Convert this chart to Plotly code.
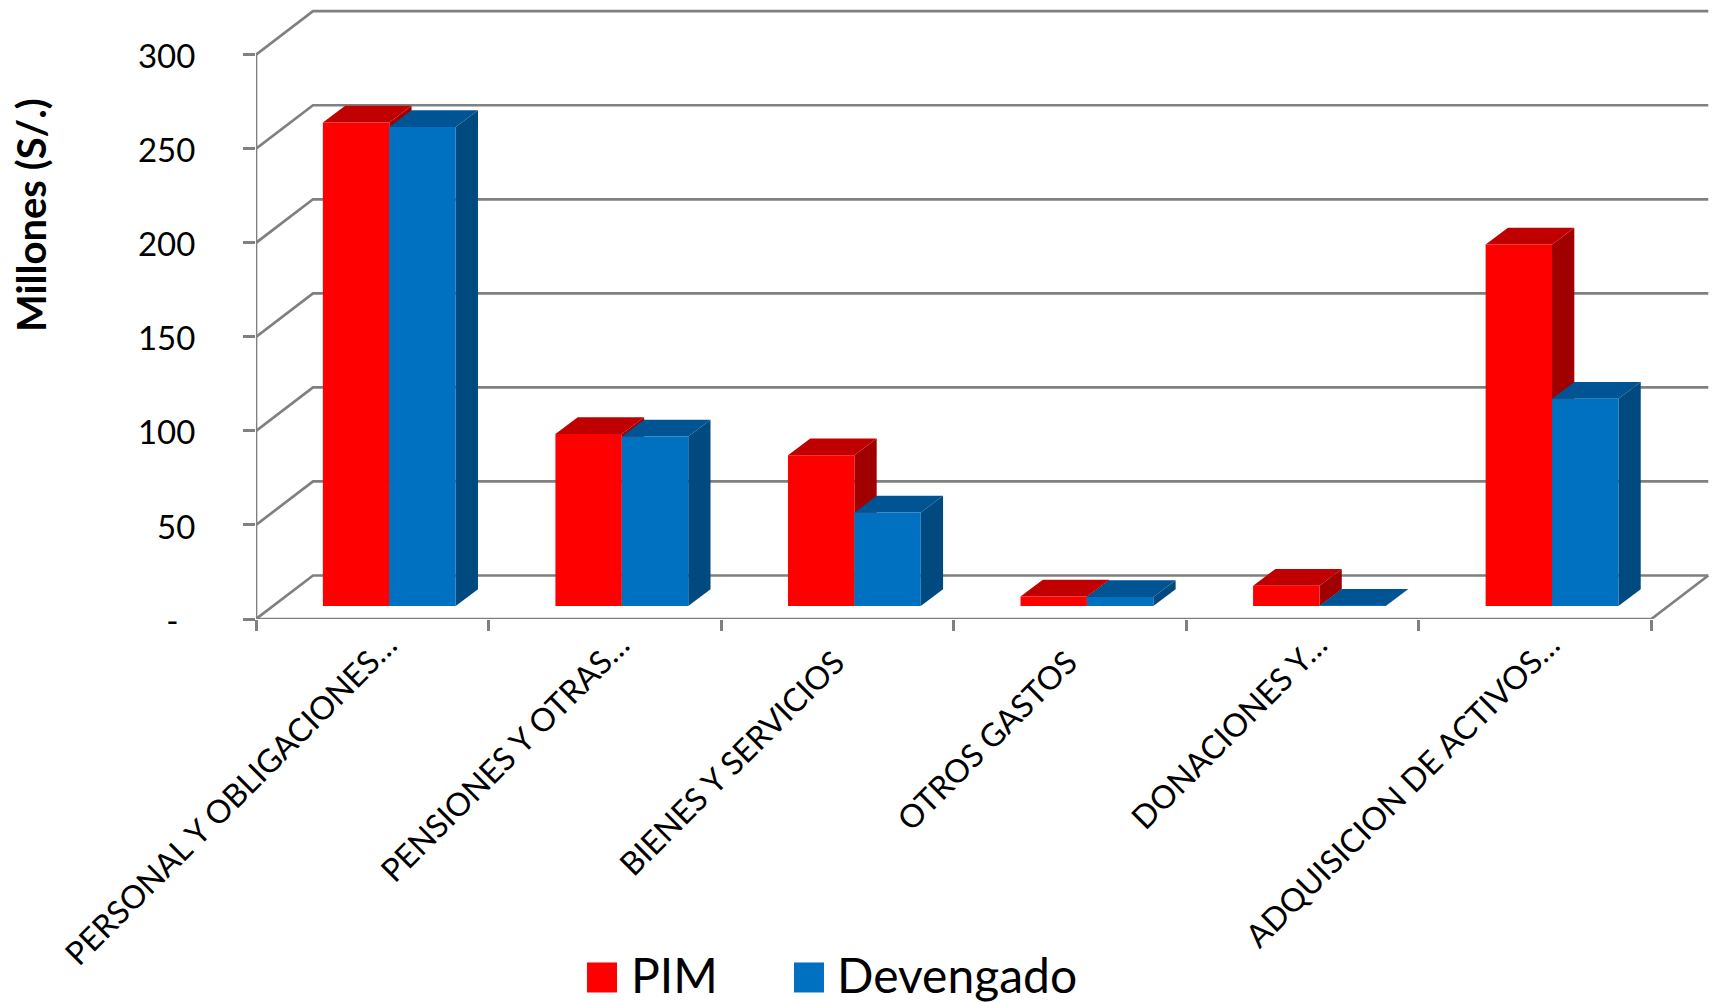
import plotly.graph_objects as go

categories = ["PERSONAL Y OBLIGACIONES…", "PENSIONES Y OTRAS…", "BIENES Y SERVICIOS\u00a0\u00a0\u00a0",
              "OTROS GASTOS\u00a0\u00a0\u00a0", "DONACIONES Y…", "ADQUISICION DE ACTIVOS…"]
pim = [257.1, 91.5, 80.1, 5.1, 10.8, 192.2]
devengado = [254.7, 90.1, 49.7, 4.8, 0.1, 110.2]
y_ticks = [0, 50, 100, 150, 200, 250, 300]
y_labels = ["-\u00a0\u00a0", "50", "100", "150", "200", "250", "300"]
series_names = ["PIM", "Devengado"]

# pixel geometry of the pseudo-3D frame
W, H = 1715, 1002
X0, Y0 = 256.0, 618.7
CAT_PX, VAL_PX = 232.55, 1.88
x_max = (W - X0) / CAT_PX
y_max = Y0 / VAL_PX
wall_dx, wall_dy = 57 / CAT_PX, 43.5 / VAL_PX
front_dx, front_dy = 17 / CAT_PX, 13 / VAL_PX
depth_dx, depth_dy = 22.3 / CAT_PX, 16.7 / VAL_PX
bar_w = 66.4 / CAT_PX
label_shift = 0.066
GREY = "#808080"
FONT = "Lato"
n = len(categories)

fig = go.Figure()


def line(xs, ys, width=2.7):
    fig.add_trace(go.Scatter(x=xs, y=ys, mode="lines", showlegend=False, hoverinfo="skip",
                             line=dict(color=GREY, width=width), cliponaxis=False))


def poly(xs, ys, color):
    fig.add_trace(go.Scatter(x=xs + xs[:1], y=ys + ys[:1], mode="lines", fill="toself", fillcolor=color,
                             line=dict(width=0, color=color), showlegend=False, hoverinfo="skip"))


# walls and floor
for t in y_ticks:
    line([0, wall_dx, 6 + wall_dx], [t, t + wall_dy, t + wall_dy])
line([0, 0], [-6, 300])
line([0, 6, 6 + wall_dx], [0, 0, wall_dy])

# side and top faces, one series after the other
styles = [(pim, "#C00000", "#A00000", "#FF0000", -1), (devengado, "#005494", "#004A80", "#0070C0", 0)]
for vals, top_c, side_c, front_c, off in styles:
    for i, v in enumerate(vals):
        xl = i + 0.5 + front_dx + off * bar_w
        xr = xl + bar_w
        b = front_dy
        t = b + v
        poly([xr, xr, xr + depth_dx, xr + depth_dx], [b, t, t + depth_dy, b + depth_dy], side_c)
        poly([xl, xr, xr + depth_dx, xl + depth_dx], [t, t, t + depth_dy, t + depth_dy], top_c)

# front faces on an overlay so they hide the faces behind them
centres = [i + 0.5 + front_dx for i in range(n)]
for (vals, _, _, front_c, off), name in zip(styles, series_names):
    fig.add_trace(go.Bar(x=centres, y=vals, base=[front_dy] * n, width=bar_w, offset=off * bar_w,
                         marker=dict(color=front_c, line=dict(width=0)), name=name,
                         showlegend=False, xaxis="x2", yaxis="y2"))

fig.add_annotation(text="<b>Millones (S/.)</b>", textangle=-90, xref="paper", yref="paper",
                   x=(31 - X0) / (W - X0), y=(Y0 - 215) / Y0, xanchor="center", yanchor="middle",
                   showarrow=False, font=dict(family=FONT, size=40, color="black"))


# legend keys and labels, placed in page pixels
def px_x(p):
    return (p - X0) / (W - X0)


def px_y(p):
    return (Y0 - p) / Y0


for name, color, sq_l, txt_l in zip(series_names, ["#FF0000", "#0070C0"], [587, 794], [631, 837]):
    fig.add_shape(type="rect", xref="paper", yref="paper", x0=px_x(sq_l), x1=px_x(sq_l + 30),
                  y0=px_y(992), y1=px_y(962), fillcolor=color, line=dict(width=0))
    fig.add_annotation(text=name, xref="paper", yref="paper", x=px_x(txt_l), y=px_y(974),
                       xanchor="left", yanchor="middle", showarrow=False,
                       xshift=-2, font=dict(family=FONT, size=48, color="black"))

fig.update_layout(
    width=W, height=H, autosize=False, paper_bgcolor="white", plot_bgcolor="white",
    margin=dict(l=X0, r=0, t=0, b=H - Y0, autoexpand=False),
    font=dict(family=FONT, color="black"), barmode="overlay", showlegend=False,
    xaxis=dict(range=[0, x_max], showgrid=False, zeroline=False, showline=False,
               tickmode="array", tickvals=[i + 0.5 + label_shift for i in range(n)], ticktext=categories,
               tickangle=-45, ticks="", tickfont=dict(family=FONT, size=32)),
    yaxis=dict(range=[0, y_max], showgrid=False, zeroline=False, showline=False,
               tickmode="array", tickvals=y_ticks, ticktext=y_labels, ticks="outside", ticklen=12,
               tickwidth=2.7, tickcolor=GREY, ticklabelstandoff=41, ticklabelshift=2,
               tickfont=dict(family=FONT, size=33)),
    xaxis2=dict(range=[0, x_max], overlaying="x", showgrid=False, zeroline=False, showline=False,
                tickmode="array", tickvals=list(range(n + 1)), ticktext=[""] * (n + 1),
                ticks="outside", ticklen=11, tickwidth=2.7, tickcolor=GREY),
    yaxis2=dict(range=[0, y_max], overlaying="y", showgrid=False, zeroline=False, showline=False,
                showticklabels=False, ticks=""),
)

fig.write_html("out.html", config=dict(displayModeBar=False),
               post_script="document.body.style.margin='0';document.body.style.overflow='hidden';")
